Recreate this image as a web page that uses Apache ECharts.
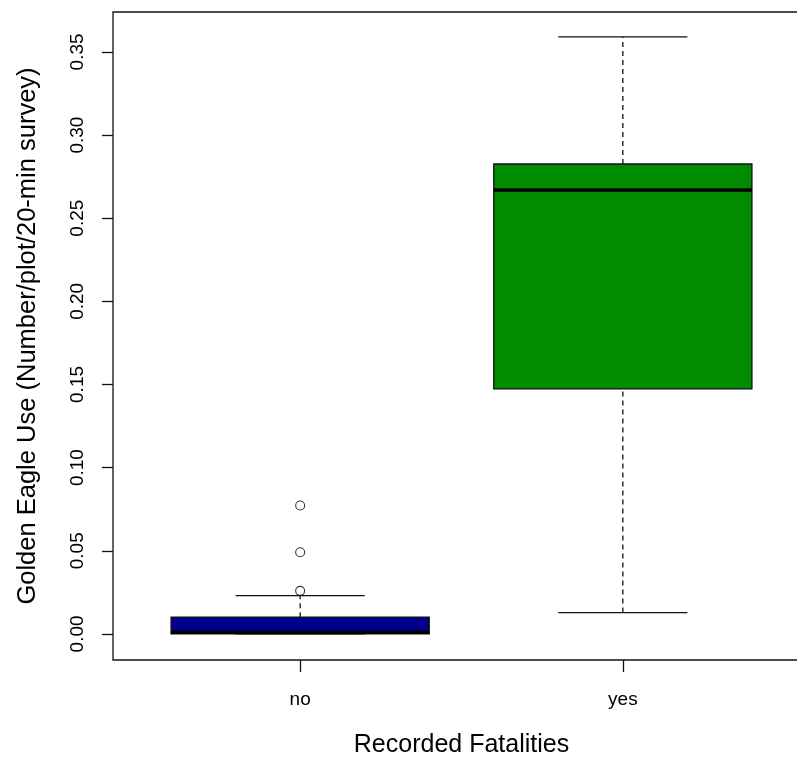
<!DOCTYPE html>
<html>
<head>
<meta charset="utf-8">
<script src="https://cdn.jsdelivr.net/npm/echarts@6/dist/echarts.min.js"></script>
<style>
html,body{margin:0;padding:0;background:#fff;overflow:hidden;width:797px;height:760px;}
#chart{width:812px;height:760px;}
</style>
</head>
<body>
<div id="chart"></div>
<script>
// ---- data ----
const categories = ['no', 'yes'];
const whiskerLow = [0.000, 0.0128];
const quartile1 = [0.000, 0.1473];
const medians = [0.001, 0.267];
const quartile3 = [0.010, 0.2826];
const whiskerHigh = [0.023, 0.359];
const outlierCategory = ['no', 'no', 'no'];
const outlierValues = [0.0772, 0.0491, 0.0259];
const yTicks = [0, 0.05, 0.10, 0.15, 0.20, 0.25, 0.30, 0.35];
const boxColors = ['#00008B', '#008B00'];

const xTicks = categories.map((c, i) => i + 1);
const boxData = categories.map((c, i) => [i + 1, whiskerLow[i], quartile1[i], medians[i], quartile3[i], whiskerHigh[i]]);
const outlierData = outlierValues.map((v, i) => [categories.indexOf(outlierCategory[i]) + 1, v]);

const FONT = "'Liberation Sans', Arial, sans-serif";
const chart = echarts.init(document.getElementById('chart'), null, {renderer: 'canvas'});

function renderBox(params, api) {
  const x = api.value(0);
  const lo = api.value(1), q1 = api.value(2), md = api.value(3), q3 = api.value(4), hi = api.value(5);
  const hw = 0.4, cw = 0.2;
  const pLo = api.coord([x, lo]), pHi = api.coord([x, hi]);
  const pQ1 = api.coord([x, q1]), pQ3 = api.coord([x, q3]);
  const left = api.coord([x - hw, q3])[0], right = api.coord([x + hw, q3])[0];
  const cl = api.coord([x - cw, 0])[0], cr = api.coord([x + cw, 0])[0];
  const pMd = api.coord([x, md]);
  const line = {stroke: '#111', lineWidth: 1.3};
  const dashed = {stroke: '#111', lineWidth: 1.3, lineDash: [5, 4]};
  const children = [
    {type: 'line', shape: {x1: pQ3[0], y1: pQ3[1], x2: pHi[0], y2: pHi[1]}, style: dashed},
    {type: 'line', shape: {x1: pLo[0], y1: pLo[1], x2: pQ1[0], y2: pQ1[1]}, style: dashed},
    {type: 'line', shape: {x1: cl, y1: pHi[1], x2: cr, y2: pHi[1]}, style: line},
    {type: 'line', shape: {x1: cl, y1: pLo[1], x2: cr, y2: pLo[1]}, style: line},
    {type: 'rect', shape: {x: left, y: pQ3[1], width: right - left, height: pQ1[1] - pQ3[1]},
      style: {fill: boxColors[params.dataIndex], stroke: '#111', lineWidth: 1.3}},
    {type: 'line', shape: {x1: left, y1: pMd[1], x2: right, y2: pMd[1]}, style: {stroke: '#000', lineWidth: 3.5}}
  ];
  return {type: 'group', children: children};
}

chart.setOption({
  animation: false,
  backgroundColor: '#fff',
  grid: {left: 113, top: 12, width: 697, height: 648, containLabel: false, outerBoundsMode: 'none',
    show: true, borderColor: '#111', borderWidth: 1.3, backgroundColor: 'transparent'},
  xAxis: {
    type: 'value', min: 0.42, max: 2.58,
    name: 'Recorded Fatalities', nameLocation: 'middle', nameGap: 73,
    nameTextStyle: {fontFamily: FONT, fontSize: 25, color: '#000'},
    axisLine: {show: false, onZero: false},
    splitLine: {show: false},
    axisTick: {show: true, customValues: xTicks, length: 12, lineStyle: {color: '#111', width: 1.3}},
    axisLabel: {customValues: xTicks, formatter: v => categories[Math.round(v) - 1] || '', fontFamily: FONT, fontSize: 19, color: '#000', margin: 30}
  },
  yAxis: {
    type: 'value', min: -0.0157, max: 0.374,
    name: 'Golden Eagle Use (Number/plot/20-min survey)', nameLocation: 'middle', nameGap: 72, nameRotate: 90,
    nameTextStyle: {fontFamily: FONT, fontSize: 25.5, color: '#000'},
    axisLine: {show: false, onZero: false},
    splitLine: {show: false},
    axisTick: {show: true, customValues: yTicks, length: 11, lineStyle: {color: '#111', width: 1.3}},
    axisLabel: {customValues: yTicks, rotate: 90, formatter: v => v.toFixed(2), fontFamily: FONT, fontSize: 19, color: '#000', margin: 26}
  },
  series: [
    {type: 'custom', renderItem: renderBox, data: boxData, clip: false, encode: {x: 0, y: [1, 2, 3, 4, 5]}, z: 2},
    {type: 'scatter', data: outlierData, symbol: 'circle', symbolSize: 9,
      itemStyle: {color: '#fff', borderColor: '#000', borderWidth: 1.1}, z: 3}
  ]
});
</script>
</body>
</html>
